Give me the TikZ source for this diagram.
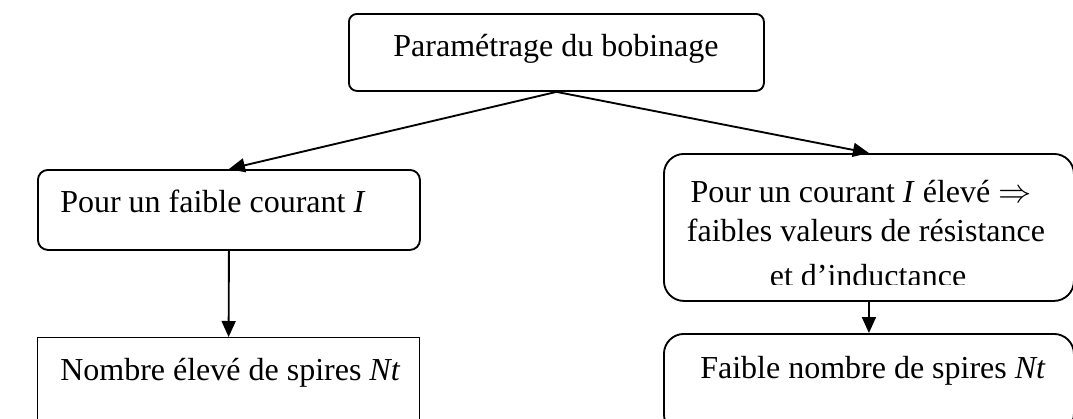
\documentclass[tikz,border=0pt]{standalone}
\usepackage{fontspec}
\setmainfont{Liberation Serif}
\usetikzlibrary{arrows.meta}

\tikzset{
  box/.style={draw, line width=1.4pt, inner sep=0pt, anchor=north west},
  lbl/.style={font=\fontsize{24}{30}\selectfont, inner sep=0pt},
  link/.style={line width=1.4pt, -{Triangle[length=12pt,width=10.5pt]}}
}

\begin{document}
\begin{tikzpicture}[x=0.75pt,y=-0.75pt]
  \useasboundingbox (0,0) rectangle (1073,418);
  \clip (0,0) rectangle (1073,418);

  % boxes
  \node[box, rounded corners=6pt, minimum width=311.25pt, minimum height=57.75pt] (top) at (348,13) {};
  \node[box, rounded corners=7.5pt, minimum width=286.5pt, minimum height=60pt] (b1) at (37,169) {};
  \node[box, rounded corners=15pt, minimum width=307.5pt, minimum height=110.25pt] (b2) at (663,153) {};
  \node[box, line width=0.9pt, minimum width=286.5pt, minimum height=75pt] (b3) at (37,337) {};
  \node[box, rounded corners=15pt, minimum width=307.5pt, minimum height=75pt] (b4) at (663,333) {};

  % texts
  \node[lbl, anchor=base] (t0) at (556,56) {Paramétrage du bobinage};
  \node[lbl, anchor=base west] (t1) at (60,212) {Pour un faible courant \textit{I}};
  \node[lbl, anchor=base] (t2a) at (861,202) {Pour un courant \textit{I} élevé $\Rightarrow$};
  \node[lbl, anchor=base] (t2b) at (866,241) {faibles valeurs de résistance};
  \begin{scope}
    \clip (663,250) rectangle (1073,284);
    \node[lbl, anchor=base] (t2c) at (868,286) {et d’inductance};
  \end{scope}
  \node[lbl, anchor=base west] (t3) at (60,380) {Nombre élevé de spires \textit{Nt}};
  \node[lbl, anchor=base west] (t4) at (700,378) {Faible nombre de spires \textit{Nt}};

  % links
  \draw[link] (top.south) -- (b1.north);
  \draw[link] (top.south) -- (b2.north);
  \draw[link] (b1.south) -- (b3.north);
  \draw[link] (b2.south) -- (b4.north);
\end{tikzpicture}
\end{document}
